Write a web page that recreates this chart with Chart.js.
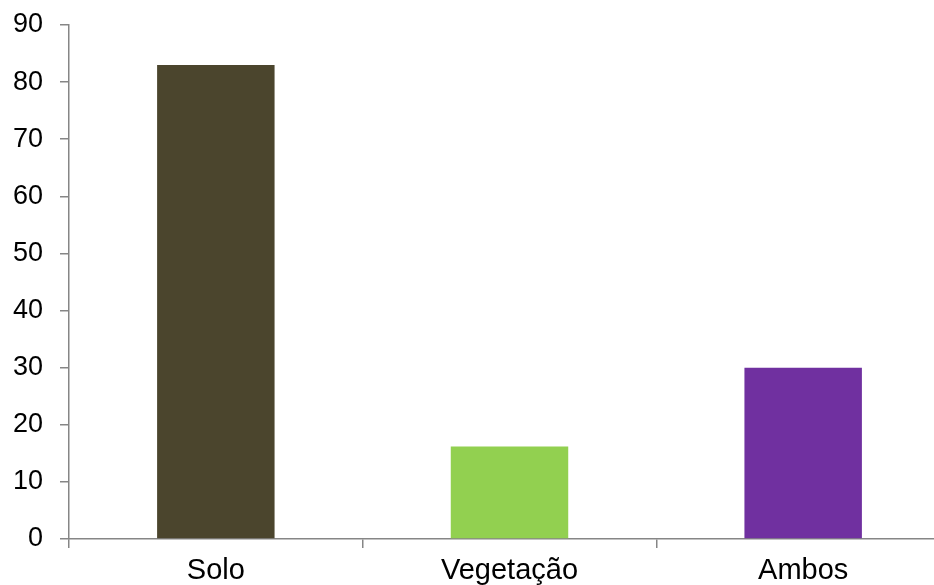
<!DOCTYPE html>
<html>
<head>
<meta charset="utf-8">
<script src="https://cdn.jsdelivr.net/npm/chart.js@4"></script>
<style>
html,body{margin:0;padding:0;overflow:hidden;background:#fff;width:934px;height:585px;}
#c{display:block;}
</style>
</head>
<body>
<canvas id="c" width="950" height="585" style="width:950px;height:585px"></canvas>
<script>
const categories = ["Solo", "Vegetação", "Ambos"];
const values = [83, 16.2, 30];
const barColors = ["#4B452D", "#92D050", "#7030A0"];
const yTicksMax = 90;
const yTickStep = 10;

const axisColor = "#868686";
const yFont = { family: "'Liberation Sans', Arial, sans-serif", size: 27 };
const xFont = { family: "'Liberation Sans', Arial, sans-serif", size: 29 };

new Chart(document.getElementById("c"), {
  type: "bar",
  data: {
    labels: categories,
    datasets: [{
      data: values,
      backgroundColor: barColors,
      borderWidth: 0,
      categoryPercentage: 1,
      barPercentage: 0.4
    }]
  },
  options: {
    responsive: false,
    animation: false,
    devicePixelRatio: 1,
    layout: { padding: { top: 0, right: 0, bottom: 0, left: 0 } },
    plugins: { legend: { display: false }, tooltip: { enabled: false } },
    scales: {
      x: {
        offset: true,
        grid: { display: true, drawOnChartArea: false, offset: true, tickLength: 9, color: axisColor, lineWidth: 1.5 },
        border: { display: true, color: axisColor, width: 1.5 },
        ticks: { color: "#000", font: xFont, padding: 6, maxRotation: 0 },
        afterFit: s => { s.height = 46; s.paddingLeft = 0; s.paddingRight = 0; }
      },
      y: {
        min: 0,
        max: yTicksMax,
        grid: { display: true, drawOnChartArea: false, tickLength: 9, color: axisColor, lineWidth: 1.5 },
        border: { display: true, color: axisColor, width: 1.5 },
        ticks: { stepSize: yTickStep, color: "#000", font: yFont, padding: 17 },
        afterFit: s => { s.width = 69; s.paddingTop = 25; s.paddingBottom = 0; }
      }
    }
  }
});
</script>
</body>
</html>
